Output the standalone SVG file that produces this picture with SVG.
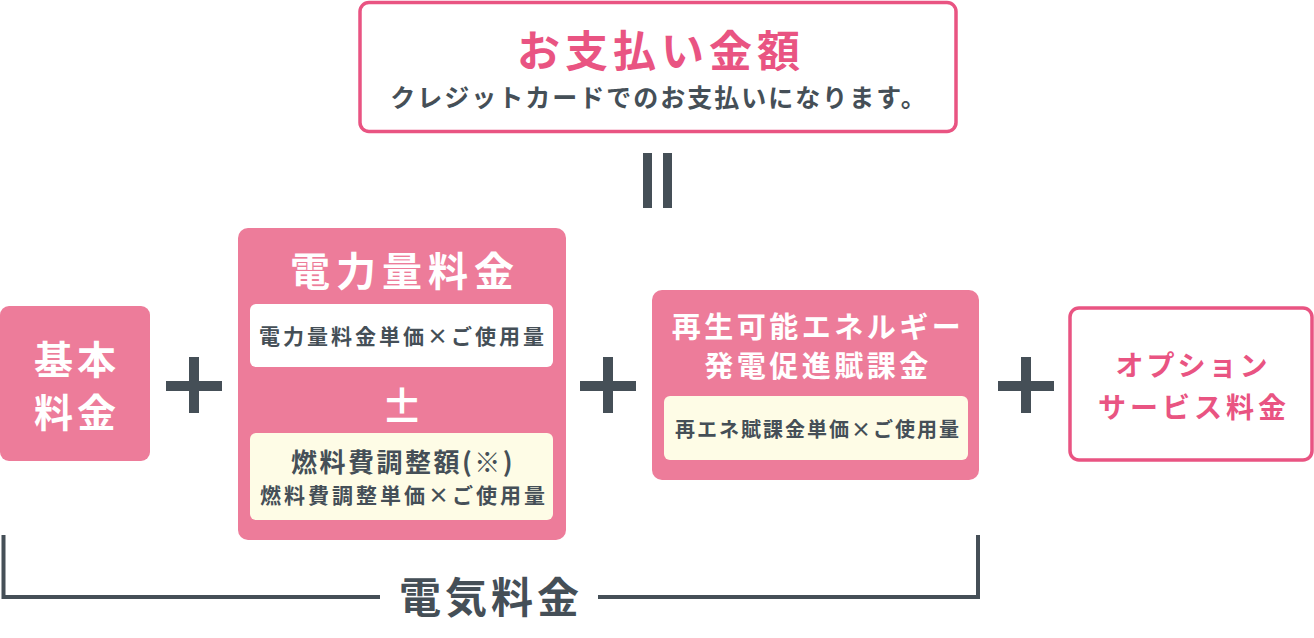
<svg xmlns="http://www.w3.org/2000/svg" width="1314" height="638" viewBox="0 0 1314 638">
<style>
text{font-family:"Noto Sans CJK JP","Noto Sans",sans-serif;font-weight:bold;text-anchor:middle}
.w{fill:#ffffff}
.g{fill:#454f57}
.p{fill:#e95482}
.fill{fill:#ed7c9a}
.out{fill:#ffffff;stroke:#e95482;stroke-width:3.5}
.cream{fill:#fefce6}
.op{fill:#454f57}
</style>
<rect width="1314" height="638" fill="#ffffff"/>
<g id="total">
<rect class="out" x="360" y="2.5" width="596" height="129" rx="9"/>
<text class="p" x="661" y="67" font-size="43" letter-spacing="5">お支払い金額</text>
<text class="g" x="659" y="107" font-size="25" letter-spacing="2">クレジットカードでのお支払いになります。</text>
</g>
<g id="connectors">
<rect class="op" x="643" y="153" width="9" height="55"/>
<rect class="op" x="663" y="153" width="9" height="55"/>
<rect class="op" x="166" y="381" width="56" height="10"/>
<rect class="op" x="189" y="357" width="10" height="56"/>
<rect class="op" x="580" y="381" width="56" height="10"/>
<rect class="op" x="603" y="357" width="10" height="56"/>
<rect class="op" x="998" y="381" width="56" height="10"/>
<rect class="op" x="1021" y="357" width="10" height="56"/>
<path d="M3.5 535 V597 H380 M598 597 H978 V535" fill="none" stroke="#454f57" stroke-width="4"/>
</g>
<g id="kihon">
<rect class="fill" x="0" y="306" width="150" height="155" rx="9"/>
<text class="w" x="77" y="374" font-size="39" letter-spacing="4">基本</text>
<text class="w" x="77" y="427" font-size="39" letter-spacing="4">料金</text>
</g>
<g id="denryoku">
<rect class="fill" x="238" y="228" width="328" height="312" rx="10"/>
<text class="w" x="405" y="286" font-size="40" letter-spacing="6">電力量料金</text>
<rect fill="#ffffff" x="250" y="304" width="303" height="63" rx="6"/>
<text class="g" x="403" y="344" font-size="21" letter-spacing="3">電力量料金単価×ご使用量</text>
<text class="w" x="402" y="422" font-size="42">±</text>
<rect class="cream" x="250" y="433" width="303" height="87" rx="6"/>
<text class="g" x="403" y="472" font-size="26" letter-spacing="2.5">燃料費調整額(※)</text>
<text class="g" x="404" y="503" font-size="21" letter-spacing="3">燃料費調整単価×ご使用量</text>
</g>
<g id="saiene">
<rect class="fill" x="652" y="290" width="327" height="190" rx="10"/>
<text class="w" x="818" y="338" font-size="29" letter-spacing="3.5">再生可能エネルギー</text>
<text class="w" x="818" y="377" font-size="29" letter-spacing="3.5">発電促進賦課金</text>
<rect class="cream" x="664" y="396" width="304" height="64" rx="6"/>
<text class="g" x="818" y="437" font-size="20" letter-spacing="2">再エネ賦課金単価×ご使用量</text>
</g>
<g id="option">
<rect class="out" x="1070" y="308" width="242" height="152" rx="9"/>
<text class="p" x="1193" y="376" font-size="28" letter-spacing="3">オプション</text>
<text class="p" x="1194" y="418" font-size="28" letter-spacing="4">サービス料金</text>
</g>
<g id="denki">
<text class="g" x="491" y="613" font-size="42" letter-spacing="4">電気料金</text>
</g>
</svg>
